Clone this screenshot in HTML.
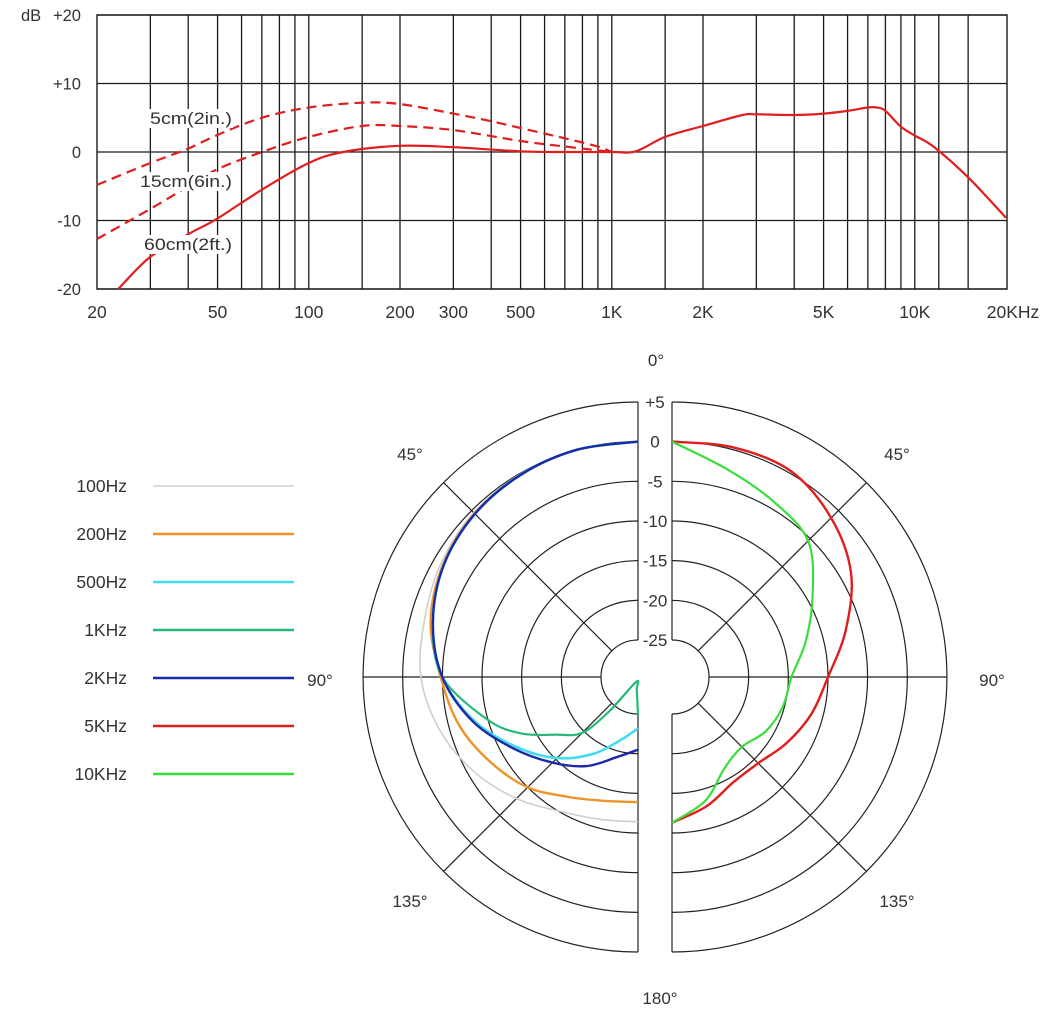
<!DOCTYPE html>
<html><head><meta charset="utf-8"><style>
html,body{margin:0;padding:0;background:#fff;}
svg{display:block;font-family:"Liberation Sans",sans-serif;}
</style></head><body>
<svg id="chart" width="1058" height="1020" viewBox="0 0 1058 1020" xmlns="http://www.w3.org/2000/svg">
<rect width="1058" height="1020" fill="#fff"/>
<g id="freq"></g>
<g id="polar"></g>
<g id="legend"></g>
</svg>
<script>
// ---- Frequency response data ----
const gridFreqs = [30,40,50,60,70,80,90,100,150,200,300,400,500,600,700,800,900,1000,1500,2000,3000,4000,5000,6000,7000,8000,9000,10000,12000,15000];
const yTicks = [20,10,0,-10,-20];
const yTickLabels = ["+20","+10","0","-10","-20"];
const xTickFreqs = [20,50,100,200,300,500,1000,2000,5000,10000,20000];
const xTickLabels = ["20","50","100","200","300","500","1K","2K","5K","10K","20KHz"];
const f60 = [23.5,30,40,50,70,100,130,200,300,500,700,1000,1200,1500,2000,2700,3000,4000,5000,6000,7000,7500,8000,9000,10000,11600,15000,20000];
const db60 = [-20,-15.3,-12,-9.7,-5.5,-1.6,0,0.9,0.7,0.1,0,0,0.1,2.2,3.8,5.4,5.5,5.4,5.6,6.0,6.5,6.5,6.0,3.7,2.4,0.7,-3.7,-9.6];
const f5 = [20,30,40,50,70,100,150,200,300,400,500,700,900,1000];
const db5 = [-4.8,-1.6,0.5,2.5,5,6.5,7.2,7,5.6,4.5,3.5,2,0.8,0];
const f15 = [20,30,40,50,70,100,150,200,300,500,700,1000];
const db15 = [-12.7,-8.3,-5,-2.5,0,2.2,3.8,3.8,3.2,1.6,0.8,0];

// ---- Polar data ----
const angles = [0,15,30,45,60,75,90,105,120,135,150,165,180];
const ringDb = [5,0,-5,-10,-15,-20,-25];
const ringLabels = ["+5","0","-5","-10","-15","-20","-25"];
const p100 = [0,0,-0.1,-0.4,-1.0,-1.8,-2.3,-3.8,-5.8,-8,-10.1,-11.1,-11.4];
const p200 = [0,0,-0.2,-0.5,-1.3,-2.6,-4.8,-6.3,-8.2,-10,-12.2,-13.5,-13.9];
const p500 = [0,0,-0.2,-0.6,-1.4,-2.9,-5,-8.3,-12,-15.2,-18.5,-21.5,-23.2];
const a1k = [0,15,30,45,60,75,90,106,116,125,135,140,160,175,180];
const p1k = [0,0,-0.2,-0.6,-1.4,-2.9,-5,-10,-13.4,-17,-19.7,-24,-29,-28,-24.9];
const p2k = [0,0,-0.2,-0.6,-1.4,-2.9,-5,-8.1,-11.6,-14.4,-16.7,-19.2,-20.5];
const p5k = [0,0.3,0.3,-1.3,-3.6,-7,-10,-11.5,-13,-14.3,-14.3,-12.8,-11.3];
const p10k = [0,-2.6,-4.1,-5.4,-9.2,-12.2,-14.6,-15.2,-16,-17.2,-16.4,-13.5,-11.3];
const legendLabels = ["100Hz","200Hz","500Hz","1KHz","2KHz","5KHz","10KHz"];

const NS="http://www.w3.org/2000/svg";
function mk(parent,tag,attrs,text){const e=document.createElementNS(NS,tag);for(const k in attrs)e.setAttribute(k,attrs[k]);if(text!==undefined)e.textContent=text;parent.appendChild(e);return e;}
function smooth(pts){let d="M"+pts[0][0].toFixed(1)+","+pts[0][1].toFixed(1);
 for(let i=0;i<pts.length-1;i++){const p0=pts[i-1]||pts[i],p1=pts[i],p2=pts[i+1],p3=pts[i+2]||p2;
  const c1=[p1[0]+(p2[0]-p0[0])/6,p1[1]+(p2[1]-p0[1])/6],c2=[p2[0]-(p3[0]-p1[0])/6,p2[1]-(p3[1]-p1[1])/6];
  d+=" C"+c1[0].toFixed(1)+","+c1[1].toFixed(1)+" "+c2[0].toFixed(1)+","+c2[1].toFixed(1)+" "+p2[0].toFixed(1)+","+p2[1].toFixed(1);}
 return d;}
const TXT='#333';

// ---- Frequency chart ----
const F=document.getElementById('freq');
const X0=97, DEC=303;
const xs=f=>X0+Math.log10(f/20)*DEC;
const ys=v=>152-v*6.85;
const X1=1007;
for(const f of gridFreqs){const l=mk(F,'line',{x1:xs(f),x2:xs(f),y1:ys(20),y2:ys(-20),stroke:'#1a1a1a','stroke-width':1.3});

}
for(let i=0;i<yTicks.length;i++){const l=mk(F,'line',{x1:X0,x2:X1,y1:ys(yTicks[i]),y2:ys(yTicks[i]),stroke:'#1a1a1a','stroke-width':1.3});


const t=mk(F,'text',{x:81,y:ys(yTicks[i])+6,'text-anchor':'end','font-size':16.5,fill:TXT},yTickLabels[i]);

}
{const b=mk(F,'rect',{x:X0,y:ys(20),width:X1-X0,height:ys(-20)-ys(20),fill:'none',stroke:'#1a1a1a','stroke-width':1.4});

}
{const t=mk(F,'text',{x:21,y:ys(20)+6,'font-size':16.5,fill:TXT},'dB');

}
for(let i=0;i<xTickFreqs.length;i++){const t=mk(F,'text',{x:xs(xTickFreqs[i])+(i==xTickFreqs.length-1?7:0),y:318,'text-anchor':'middle','font-size':17.5,fill:TXT},xTickLabels[i]);

}
function fcurve(fr,db,dash,name){const p=mk(F,'path',{d:smooth(fr.map((f,i)=>[xs(f),ys(db[i])])),fill:'none',stroke:'#e01e1e','stroke-width':2.2,'stroke-dasharray':dash||'none'});

}
fcurve(f5,db5,'10 6','curve-5cm');
fcurve(f15,db15,'10 6','curve-15cm');
fcurve(f60,db60,null,'curve-60cm');
[['5cm(2in.)',150,124,82],['15cm(6in.)',140,187,92],['60cm(2ft.)',144,250,88]].forEach(a=>{
 const bg=mk(F,'rect',{x:a[1]-1,y:a[2]-15,width:a[3]+2,height:19,fill:'#fff'});
 
 
 const t=mk(F,'text',{x:a[1],y:a[2],'font-size':17,fill:TXT,textLength:a[3],lengthAdjust:'spacingAndGlyphs'},a[0]);
 
 });

// ---- Polar chart ----
const P=document.getElementById('polar');
const CY=677, CL=638, CR=672;
const rs=db=>37+(db+25)*7.934;
const R=rs(5);
for(const side of [-1,1]){const cx=side<0?CL:CR;
 for(const db of ringDb){const r=rs(db);
  const c=mk(P,'path',{d:`M${cx},${CY-r} A${r},${r} 0 0 ${side<0?0:1} ${cx},${CY+r}`,fill:'none',stroke:'#222','stroke-width':1.2});
  
  }
 for(const a of [45,90,135]){const t=a*Math.PI/180,r0=rs(-25);
  const l=mk(P,'line',{x1:cx+side*r0*Math.sin(t),y1:CY-r0*Math.cos(t),x2:cx+side*R*Math.sin(t),y2:CY-R*Math.cos(t),stroke:'#222','stroke-width':1.2});
  
  }
 for(const seg of [[CY-R,CY-rs(-25)],[CY+rs(-25),CY+R]]){const l=mk(P,'line',{x1:cx,x2:cx,y1:seg[0],y2:seg[1],stroke:'#222','stroke-width':1.2});
  
  }
}
for(let i=0;i<ringDb.length;i++){const t=mk(P,'text',{x:655,y:CY-rs(ringDb[i])+6,'text-anchor':'middle','font-size':17,fill:TXT},ringLabels[i]);
 
 }
[['0°',656,366],['45°',410,460],['45°',897,460],['90°',320,686],['90°',992,686],['135°',410,907],['135°',897,907],['180°',660,1004]].forEach(a=>{
 const t=mk(P,'text',{x:a[1],y:a[2],'text-anchor':'middle','font-size':17,fill:TXT},a[0]);
 
 });
function pcurve(ang,db,side,color,w,name){const cx=side<0?CL:CR;
 const pts=ang.map((a,i)=>{const t=a*Math.PI/180,r=Math.max(0,rs(db[i]));return [cx+side*r*Math.sin(t),CY-r*Math.cos(t)];});
 const p=mk(P,'path',{d:smooth(pts),fill:'none',stroke:color,'stroke-width':w});
 
 }
const colors=['#cfcfcf','#f0922a','#40dcf0','#26b878','#1a2aa8','#e01e1e','#3ade3a'];
pcurve(angles,p100,-1,colors[0],1.6,'polar-100hz');
pcurve(angles,p200,-1,colors[1],2.4,'polar-200hz');
pcurve(a1k,p1k,-1,colors[3],2.2,'polar-1khz');
pcurve(angles,p500,-1,colors[2],2.6,'polar-500hz');
pcurve(angles,p2k,-1,colors[4],2.4,'polar-2khz');
pcurve(angles,p5k,1,colors[5],2.4,'polar-5khz');
pcurve(angles,p10k,1,colors[6],2.2,'polar-10khz');

// ---- Legend ----
const L=document.getElementById('legend');
for(let i=0;i<legendLabels.length;i++){const y=486+i*48;
 const t=mk(L,'text',{x:127,y:y+6,'text-anchor':'end','font-size':17.5,fill:TXT},legendLabels[i]);
 
 
 const l=mk(L,'line',{x1:153,x2:294,y1:y,y2:y,stroke:colors[i],'stroke-width':i==0?1.5:2.6});
 
 }
</script>
</body></html>
